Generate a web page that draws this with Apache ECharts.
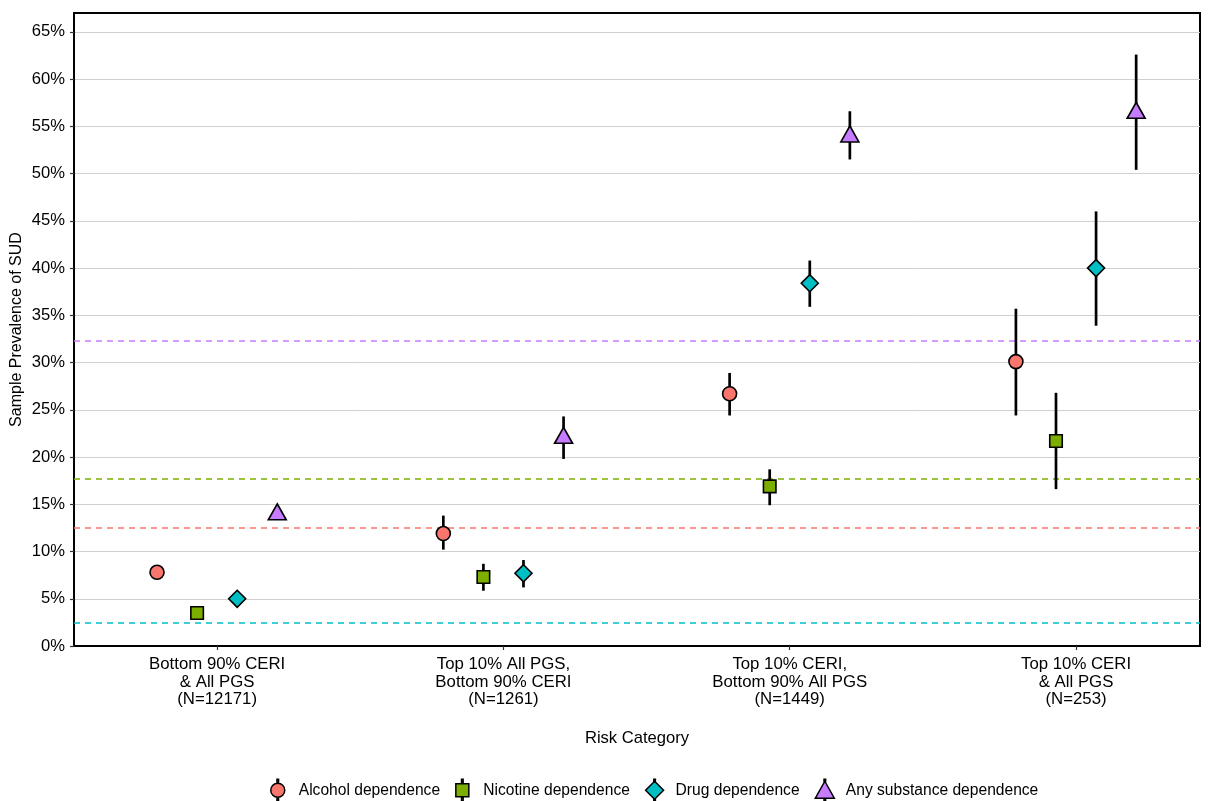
<!DOCTYPE html>
<html>
<head>
<meta charset="utf-8">
<script src="https://cdn.jsdelivr.net/npm/echarts@6/dist/echarts.min.js"></script>
<style>
html,body{margin:0;padding:0;background:#fff;}
#chart{width:1210px;height:801px;}
</style>
</head>
<body>
<div id="chart"></div>
<script>
const categories = [
  'Bottom 90% CERI\n& All PGS\n(N=12171)',
  'Top 10% All PGS,\nBottom 90% CERI\n(N=1261)',
  'Top 10% CERI,\nBottom 90% All PGS\n(N=1449)',
  'Top 10% CERI\n& All PGS\n(N=253)'
];
const seriesNames = ['Alcohol dependence', 'Nicotine dependence', 'Drug dependence', 'Any substance dependence'];
const seriesColors = ['#F8766D', '#7CAE00', '#00BFC4', '#C77CFF'];

const alcohol     = [7.8, 11.9, 26.7, 30.1];
const alcoholLow  = [7.3, 10.2, 24.4, 24.4];
const alcoholHigh = [8.3, 13.8, 28.9, 35.7];

const nicotine     = [3.5, 7.3, 16.9, 21.7];
const nicotineLow  = [3.1, 5.85, 14.9, 16.6];
const nicotineHigh = [3.9, 8.7, 18.7, 26.8];

const drug     = [5.0, 7.7, 38.4, 40.0];
const drugLow  = [4.6, 6.2, 35.9, 33.9];
const drugHigh = [5.4, 9.1, 40.8, 46.0];

const anySub     = [14.2, 22.3, 54.2, 56.7];
const anySubLow  = [13.6, 19.8, 51.5, 50.4];
const anySubHigh = [14.8, 24.3, 56.6, 62.6];

const overallPrevalence = [12.5, 17.7, 2.5, 32.3];

const yTicks = [0, 5, 10, 15, 20, 25, 30, 35, 40, 45, 50, 55, 60, 65];

const values = [alcohol, nicotine, drug, anySub];
const lows = [alcoholLow, nicotineLow, drugLow, anySubLow];
const highs = [alcoholHigh, nicotineHigh, drugHigh, anySubHigh];
const dodge = [-0.21, -0.07, 0.07, 0.21];
const symbols = ['circle', 'rect', 'diamond', 'triangle'];
const symbolSizes = [14, 12.5, 17, [18, 16]];
const legendIcons = [
  'path://M0,11A7,7 0 1,1 14,11A7,7 0 1,1 0,11Z M6.2,0L7.8,0L7.8,4L6.2,4Z M6.2,18L7.8,18L7.8,22L6.2,22Z',
  'path://M0,4.5L13,4.5L13,17.5L0,17.5Z M5.7,0L7.3,0L7.3,4.5L5.7,4.5Z M5.7,17.5L7.3,17.5L7.3,22L5.7,22Z',
  'path://M9,2L18,11L9,20L0,11Z M8.2,0L9.8,0L9.8,2L8.2,2Z M8.2,20L9.8,20L9.8,22L8.2,22Z',
  'path://M9.5,2L19,19L0,19Z M8.7,0L10.3,0L10.3,2L8.7,2Z M8.7,19L10.3,19L10.3,22L8.7,22Z'
];
const FONT = 'Liberation Sans, Arial, Helvetica, sans-serif';

const series = [];
// error bars + reference lines
seriesNames.forEach((name, i) => {
  series.push({
    name: name,
    type: 'custom',
    z: 3,
    silent: true,
    data: categories.map((c, k) => [k + 1 + dodge[i], lows[i][k], highs[i][k]]),
    encode: { x: 0, y: [1, 2] },
    renderItem: function (params, api) {
      const p1 = api.coord([api.value(0), api.value(1)]);
      const p2 = api.coord([api.value(0), api.value(2)]);
      return {
        type: 'line',
        shape: { x1: p1[0], y1: p1[1], x2: p2[0], y2: p2[1] },
        style: { stroke: '#000', lineWidth: 2.7 }
      };
    },
    markLine: {
      silent: true,
      symbol: 'none',
      label: { show: false },
      z: 1,
      lineStyle: { color: seriesColors[i], type: [6, 5], width: 1.5, opacity: 1 },
      emphasis: { disabled: true },
      data: [{ yAxis: overallPrevalence[i] }]
    }
  });
});
// points
seriesNames.forEach((name, i) => {
  series.push({
    name: name,
    type: 'scatter',
    z: 5,
    symbol: symbols[i],
    symbolSize: symbolSizes[i],
    itemStyle: { color: seriesColors[i], borderColor: '#000', borderWidth: 1.6, opacity: 1 },
    data: categories.map((c, k) => [k + 1 + dodge[i], values[i][k]])
  });
});

const chart = echarts.init(document.getElementById('chart'), null, { renderer: 'canvas' });
chart.setOption({
  animation: false,
  backgroundColor: '#fff',
  textStyle: { fontFamily: FONT },
  color: seriesColors,
  grid: {
    left: 74, right: 10, top: 13, bottom: 155,
    containLabel: false,
    outerBoundsMode: 'none',
    show: true, borderColor: '#000', borderWidth: 2, backgroundColor: 'transparent'
  },
  legend: {
    bottom: -1,
    left: 270,
    padding: 0,
    itemWidth: 22,
    itemHeight: 22,
    itemGap: 15,
    data: seriesNames.map((n, i) => ({ name: n, icon: legendIcons[i], itemStyle: { color: seriesColors[i], borderColor: '#000', borderWidth: 1.5 } })),
    textStyle: { fontSize: 15.6, color: '#000', fontFamily: FONT, padding: [0, 0, 0, 5] },
    selectedMode: false
  },
  xAxis: {
    type: 'value',
    min: 0.5,
    max: 4.433,
    name: 'Risk Category',
    nameLocation: 'middle',
    nameGap: 84,
    nameMoveOverlap: false,
    nameTextStyle: { fontSize: 16.6, color: '#000' },
    axisLine: { show: true, lineStyle: { color: '#000', width: 2 } },
    axisTick: { show: true, customValues: [1, 2, 3, 4], length: 4, lineStyle: { color: '#333', width: 1.2 } },
    axisLabel: {
      customValues: [1, 2, 3, 4],
      formatter: v => categories[Math.round(v) - 1],
      fontSize: 16.8, color: '#000', lineHeight: 17.5, margin: 10, align: 'center'
    },
    splitLine: { show: false }
  },
  yAxis: {
    type: 'value',
    min: 0,
    max: 67,
    name: 'Sample Prevalence of SUD',
    nameLocation: 'middle',
    nameRotate: 90,
    nameGap: 49,
    nameMoveOverlap: false,
    nameTextStyle: { fontSize: 16, color: '#000' },
    axisLine: { show: true, lineStyle: { color: '#000', width: 2 } },
    axisTick: { show: true, customValues: yTicks, length: 4, lineStyle: { color: '#333', width: 1.2 } },
    axisLabel: { customValues: yTicks, formatter: v => v + '%', fontSize: 16.6, color: '#000', margin: 9 },
    splitLine: { show: true, lineStyle: { color: '#d0d0d0', width: 1 } }
  },
  series: series
});
</script>
</body>
</html>
